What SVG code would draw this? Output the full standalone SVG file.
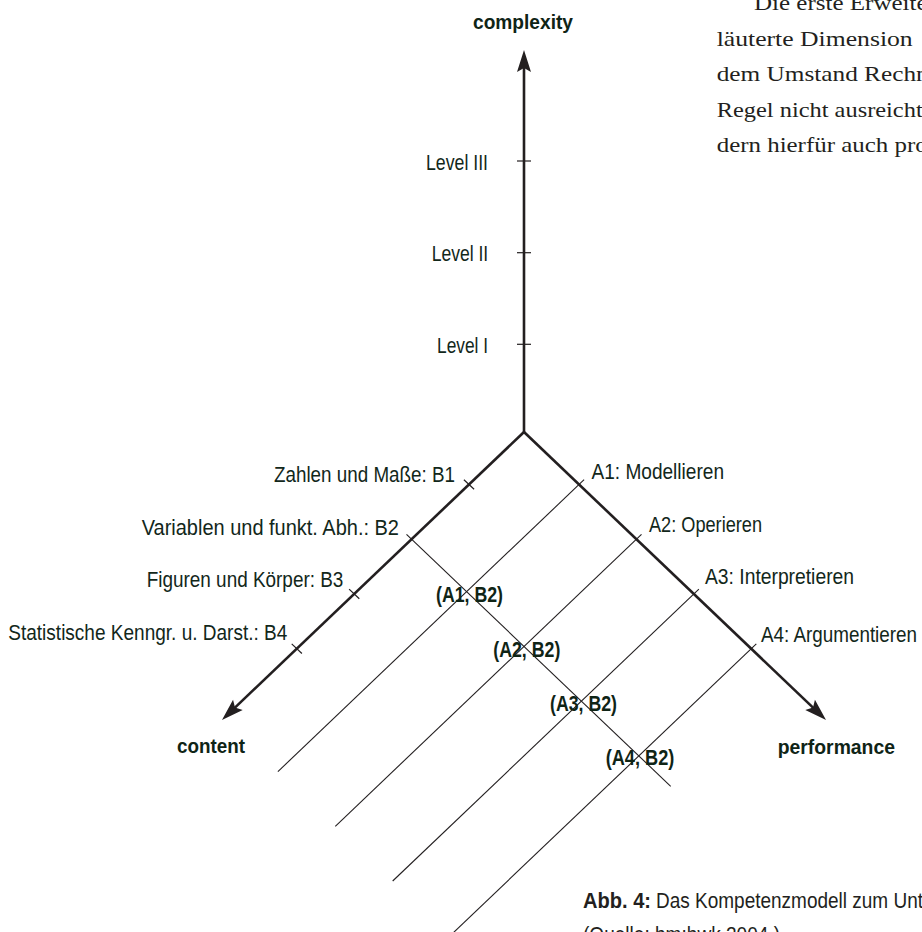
<svg xmlns="http://www.w3.org/2000/svg" width="922" height="932" viewBox="0 0 922 932">
  <style>
    .ax { stroke: #231f20; stroke-width: 2.6; fill: none; }
    .thin { stroke: #231f20; stroke-width: 1.1; fill: none; }
    .tick { stroke: #231f20; stroke-width: 1.2; fill: none; }
    .lbl { font-family: "Liberation Sans", Arial, sans-serif; font-size: 22px; fill: #12271a; }
    .ttl { font-family: "Liberation Sans", Arial, sans-serif; font-size: 20px; font-weight: bold; fill: #0f2416; }
    .pair { font-family: "Liberation Sans", Arial, sans-serif; font-size: 22px; font-weight: bold; fill: #0f2416; }
    .body { font-family: "Liberation Serif", "Times New Roman", serif; font-size: 22px; fill: #231f20; }
    .cap { font-family: "Liberation Sans", Arial, sans-serif; font-size: 22px; fill: #231f20; }
  </style>
  <defs>
    <marker id="arrow" viewBox="-24 -8 26 16" refX="-10" refY="0" markerWidth="26" markerHeight="16" markerUnits="userSpaceOnUse" orient="auto">
      <path d="M0,0 L-22,-7 L-18,0 L-22,7 Z" fill="#231f20"/>
    </marker>
  </defs>

  <!-- body text (cut off at right edge, as in the reference) -->
  <g id="paragraph">
    <text class="body" x="754" y="10" textLength="173.6" lengthAdjust="spacingAndGlyphs">Die erste Erweite</text>
    <text class="body" x="716.7" y="45.6" textLength="196" lengthAdjust="spacingAndGlyphs">läuterte Dimension</text>
    <text class="body" x="716.7" y="81.2" textLength="212" lengthAdjust="spacingAndGlyphs">dem Umstand Rechn</text>
    <text class="body" x="716.7" y="116.8" textLength="206" lengthAdjust="spacingAndGlyphs">Regel nicht ausreicht</text>
    <text class="body" x="716.7" y="152.4" textLength="211" lengthAdjust="spacingAndGlyphs">dern hierfür auch pro</text>
  </g>

  <!-- connectors: axes, ticks, grid lines -->
  <g id="connectors">
    <line class="ax" x1="524" y1="432" x2="524" y2="60" marker-end="url(#arrow)"/>
    <line class="ax" x1="524" y1="432" x2="229.2" y2="713.1" marker-end="url(#arrow)"/>
    <line class="ax" x1="524" y1="432" x2="818.8" y2="713.1" marker-end="url(#arrow)"/>

    <line class="tick" x1="517" y1="161" x2="531" y2="161"/>
    <line class="tick" x1="517" y1="252.7" x2="531" y2="252.7"/>
    <line class="tick" x1="517" y1="344.3" x2="531" y2="344.3"/>

    <line class="tick" x1="463.9" y1="479.7" x2="474.1" y2="489.3"/>
    <line class="tick" x1="349.1" y1="589.1" x2="359.3" y2="598.7"/>
    <line class="tick" x1="291.7" y1="643.9" x2="301.9" y2="653.5"/>

    <line class="thin" x1="406.5" y1="534.4" x2="670.7" y2="786.3"/>

    <line class="thin" x1="584.1" y1="479.7" x2="277.9" y2="771.6"/>
    <line class="thin" x1="641.5" y1="534.4" x2="335.3" y2="826.3"/>
    <line class="thin" x1="698.9" y1="589.1" x2="392.7" y2="881.0"/>
    <line class="thin" x1="756.3" y1="643.9" x2="450.1" y2="935.8"/>
  </g>

  <g id="axis-complexity"><text class="ttl" x="473" y="29" textLength="100" lengthAdjust="spacingAndGlyphs">complexity</text></g>
  <g id="axis-content"><text class="ttl" x="177" y="753" textLength="68" lengthAdjust="spacingAndGlyphs">content</text></g>
  <g id="axis-performance"><text class="ttl" x="777.7" y="754" textLength="117.3" lengthAdjust="spacingAndGlyphs">performance</text></g>

  <g id="level-3"><text class="lbl" x="426" y="170" textLength="62" lengthAdjust="spacingAndGlyphs">Level III</text></g>
  <g id="level-2"><text class="lbl" x="431.7" y="261.3" textLength="56.5" lengthAdjust="spacingAndGlyphs">Level II</text></g>
  <g id="level-1"><text class="lbl" x="437" y="352.6" textLength="51" lengthAdjust="spacingAndGlyphs">Level I</text></g>

  <g id="b1"><text class="lbl" x="274" y="482" textLength="181" lengthAdjust="spacingAndGlyphs">Zahlen und Maße: B1</text></g>
  <g id="b2"><text class="lbl" x="141.7" y="535" textLength="257.3" lengthAdjust="spacingAndGlyphs">Variablen und funkt. Abh.: B2</text></g>
  <g id="b3"><text class="lbl" x="146.7" y="587" textLength="196.7" lengthAdjust="spacingAndGlyphs">Figuren und Körper: B3</text></g>
  <g id="b4"><text class="lbl" x="8.3" y="640" textLength="279" lengthAdjust="spacingAndGlyphs">Statistische Kenngr. u. Darst.: B4</text></g>

  <g id="a1"><text class="lbl" x="591.5" y="479" textLength="132.5" lengthAdjust="spacingAndGlyphs">A1: Modellieren</text></g>
  <g id="a2"><text class="lbl" x="649" y="532" textLength="113" lengthAdjust="spacingAndGlyphs">A2: Operieren</text></g>
  <g id="a3"><text class="lbl" x="705" y="584" textLength="149" lengthAdjust="spacingAndGlyphs">A3: Interpretieren</text></g>
  <g id="a4"><text class="lbl" x="761" y="642" textLength="156" lengthAdjust="spacingAndGlyphs">A4: Argumentieren</text></g>

  <g id="a1b2"><text class="pair" x="436" y="602" textLength="67" lengthAdjust="spacingAndGlyphs">(A1, B2)</text></g>
  <g id="a2b2"><text class="pair" x="493.3" y="656.5" textLength="67" lengthAdjust="spacingAndGlyphs">(A2, B2)</text></g>
  <g id="a3b2"><text class="pair" x="550" y="710.5" textLength="67" lengthAdjust="spacingAndGlyphs">(A3, B2)</text></g>
  <g id="a4b2"><text class="pair" x="605.7" y="765" textLength="68.6" lengthAdjust="spacingAndGlyphs">(A4, B2)</text></g>

  <g id="caption">
    <text class="cap" x="583" y="908" textLength="68" lengthAdjust="spacingAndGlyphs" font-weight="bold">Abb. 4:</text>
    <text class="cap" x="656" y="908" textLength="267" lengthAdjust="spacingAndGlyphs">Das Kompetenzmodell zum Unt</text>
    <text class="cap" x="583" y="942" textLength="197" lengthAdjust="spacingAndGlyphs">(Quelle: bm:bwk 2004 )</text>
  </g>
</svg>
